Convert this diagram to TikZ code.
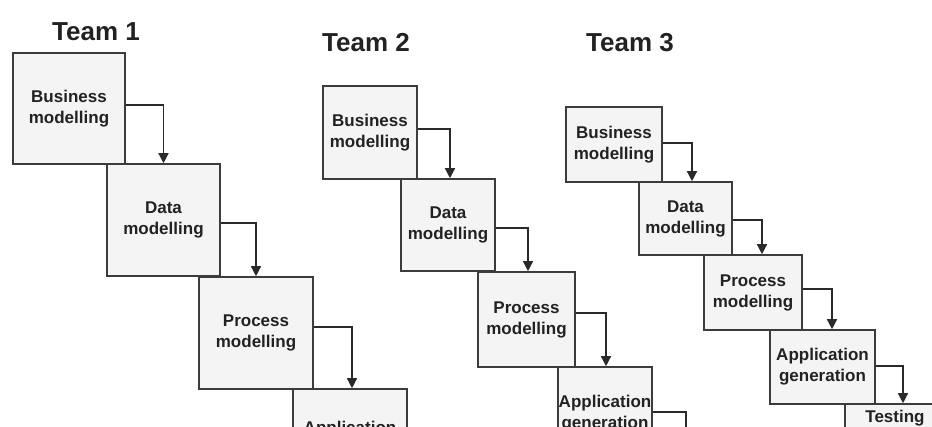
\documentclass[tikz,border=0pt]{standalone}
\usepackage{fontspec}
\setmainfont{Liberation Sans}
\usetikzlibrary{arrows.meta}
\definecolor{boxline}{HTML}{3C3C3C}
\definecolor{boxfill}{HTML}{F4F4F4}
\definecolor{arrline}{HTML}{2A2A2A}
\definecolor{teamtext}{HTML}{222222}
\begin{document}
\begin{tikzpicture}[x=1pt,y=-1pt,
  box/.style={draw=boxline, line width=1.6pt, fill=boxfill, inner sep=0pt, align=center,
    text=teamtext, font=\fontsize{17}{21}\selectfont\bfseries},
  arr/.style={draw=arrline, line width=1.4pt, -{Triangle[width=10pt,length=10pt]}},
  team/.style={font=\fontsize{26}{30}\selectfont\bfseries, text=teamtext}]
\useasboundingbox (0,0) rectangle (932,426);
\fill[white] (0,0) rectangle (932,426);
\clip (0,0) rectangle (932,426);

% team labels
\node[team] (team1) at (96,32) {Team 1};
\node[team] (team2) at (366,43) {Team 2};
\node[team] (team3) at (630,43) {Team 3};

% Team 1
\node[box, minimum width=112pt, minimum height=111pt] (b1) at (69,108.5) {Business\\modelling};
\node[box, minimum width=113pt, minimum height=112pt] (d1) at (163.5,220) {Data\\modelling};
\node[box, minimum width=114pt, minimum height=112pt] (p1) at (256,333) {Process\\modelling};
\node[box, minimum width=114pt, minimum height=102pt] (a1) at (350,440) {Application\\generation};

% Team 2
\node[box, minimum width=94pt, minimum height=93pt] (b2) at (370,132.5) {Business\\modelling};
\node[box, minimum width=94pt, minimum height=92pt] (d2) at (448,225) {Data\\modelling};
\node[box, minimum width=97pt, minimum height=95pt] (p2) at (526.5,319.5) {Process\\modelling};
\node[box, minimum width=94pt, minimum height=93pt] (a2) at (605,413.5) {Application\\generation};
\coordinate (t2) at (686,460);

% Team 3
\node[box, minimum width=96pt, minimum height=75pt] (b3) at (614,144.5) {Business\\modelling};
\node[box, minimum width=93pt, minimum height=73pt] (d3) at (685.5,218.5) {Data\\modelling};
\node[box, minimum width=98pt, minimum height=75pt] (p3) at (753,292.5) {Process\\modelling};
\node[box, minimum width=105pt, minimum height=74pt] (a3) at (822.5,367) {Application\\generation};
\node[box, minimum width=100pt, minimum height=28pt] (t3) at (895,418) {Testing};

% arrows Team 1
\draw[arr] ([yshift=3.5pt]b1.east) -| (d1.north);
\draw[arr] ([yshift=-3pt]d1.east) -| (p1.north);
\draw[arr] ([yshift=6pt]p1.east) -| ([xshift=2pt]a1.north);

% arrows Team 2
\draw[arr] ([yshift=3.5pt]b2.east) -| ([xshift=2pt]d2.north);
\draw[arr] ([yshift=-3pt]d2.east) -| ([xshift=1.5pt]p2.north);
\draw[arr] ([yshift=6.5pt]p2.east) -| ([xshift=1pt]a2.north);
\draw[arr] ([yshift=1.5pt]a2.east) -| (t2);

% arrows Team 3
\draw[arr] ([yshift=1.5pt]b3.east) -| ([xshift=6.5pt]d3.north);
\draw[arr] ([yshift=-1.5pt]d3.east) -| ([xshift=9pt]p3.north);
\draw[arr] ([yshift=3.5pt]p3.east) -| ([xshift=9.5pt]a3.north);
\draw[arr] ([yshift=1pt]a3.east) -| ([xshift=8pt]t3.north);
\end{tikzpicture}
\end{document}
